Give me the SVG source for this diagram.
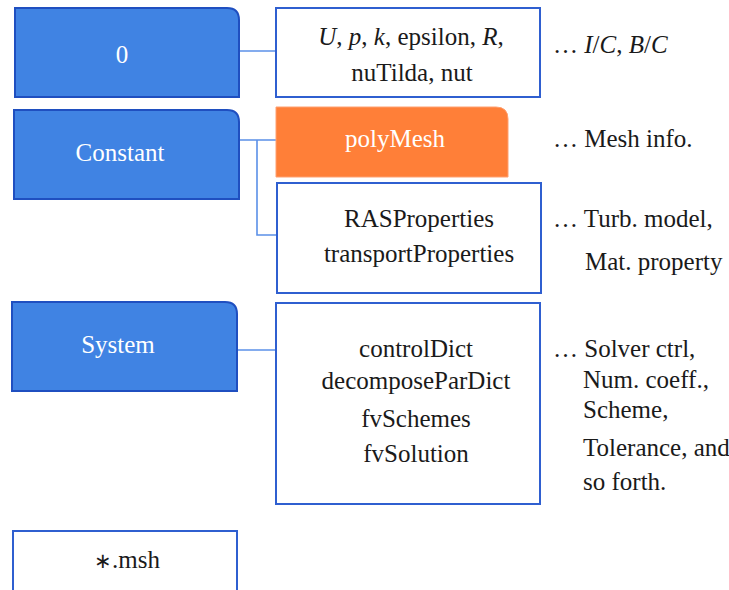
<svg xmlns="http://www.w3.org/2000/svg" width="729" height="590" viewBox="0 0 729 590">
<style>
text{font-family:'Liberation Serif','Times New Roman',serif;font-size:25px;fill:#1a1a1a}
.c{text-anchor:middle}
.w{fill:#ffffff}
.i{font-style:italic}
.blue{fill:#4083e3;stroke:#1f4fc0;stroke-width:2}
.box{fill:#ffffff;stroke:#2f5fd0;stroke-width:2}
.orange{fill:#ff7f38;stroke:#ffa070;stroke-width:1}
.con{fill:none;stroke:#5b90e8;stroke-width:1.6}
</style>
<rect width="729" height="590" fill="#ffffff"/>
<g id="connectors">
<path class="con" d="M239 51H276"/>
<path class="con" d="M239 140H276M257 140V235H277"/>
<path class="con" d="M237 350H276"/>
</g>
<g id="n0">
<path class="blue" d="M15 8H227Q239 8 239 20V97H15Z"/>
<text class="c w" x="122" y="63">0</text>
</g>
<g id="nConstant">
<path class="blue" d="M14 110H227Q239 110 239 122V199H14Z"/>
<text class="c w" x="120" y="161">Constant</text>
</g>
<g id="nSystem">
<path class="blue" d="M12 302H225Q237 302 237 314V391H12Z"/>
<text class="c w" x="118" y="353">System</text>
</g>
<g id="nMsh">
<rect class="box" x="13" y="531" width="224" height="70"/>
<text class="c" x="127" y="568"><tspan font-size="21">∗</tspan>.msh</text>
</g>
<g id="nFields">
<rect class="box" x="276" y="8" width="264" height="89"/>
<text class="c" x="411" y="45"><tspan class="i">U</tspan>, <tspan class="i">p</tspan>, <tspan class="i">k</tspan>, epsilon, <tspan class="i">R</tspan>,</text>
<text class="c" x="412" y="81">nuTilda, nut</text>
</g>
<g id="nPolyMesh">
<path class="orange" d="M276 107H496Q508 107 508 119V177H276Z"/>
<text class="c w" x="395" y="147">polyMesh</text>
</g>
<g id="nProps">
<rect class="box" x="277" y="183" width="264" height="110"/>
<text class="c" x="419" y="227">RASProperties</text>
<text class="c" x="419" y="262">transportProperties</text>
</g>
<g id="nSystemFiles">
<rect class="box" x="276" y="303" width="264" height="201"/>
<text class="c" x="416" y="357">controlDict</text>
<text class="c" x="416" y="389">decomposeParDict</text>
<text class="c" x="416" y="427">fvSchemes</text>
<text class="c" x="416" y="462">fvSolution</text>
</g>
<g id="annotations">
<text x="553" y="53">… <tspan class="i">I</tspan>/<tspan class="i">C</tspan>, <tspan class="i">B</tspan>/<tspan class="i">C</tspan></text>
<text x="553" y="147">… Mesh info.</text>
<text x="553" y="227">… Turb. model,</text>
<text x="585" y="270">Mat. property</text>
<text x="553" y="357">… Solver ctrl,</text>
<text x="583" y="388">Num. coeff.,</text>
<text x="583" y="418">Scheme,</text>
<text x="583" y="456">Tolerance, and</text>
<text x="583" y="490">so forth.</text>
</g>
</svg>
